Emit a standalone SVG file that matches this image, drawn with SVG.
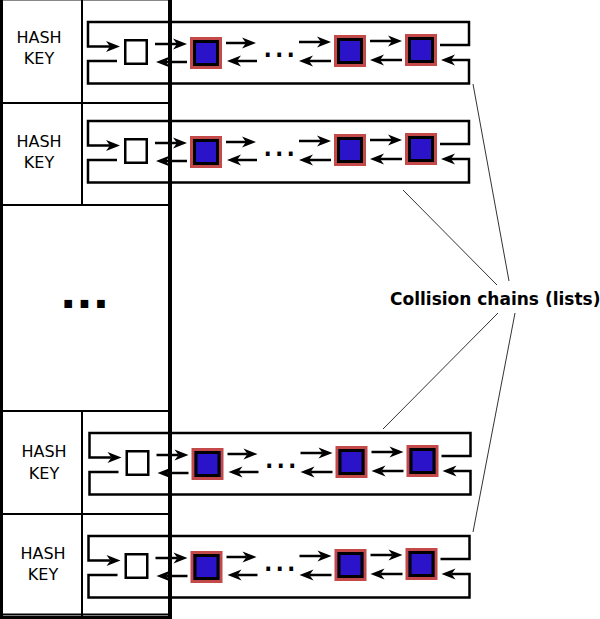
<svg xmlns="http://www.w3.org/2000/svg" xmlns:xlink="http://www.w3.org/1999/xlink" width="600" height="619" viewBox="0 0 600 619">
<style>
.thin{stroke:#000;stroke-width:2;fill:none}
.thick{stroke:#000;fill:none}
.hk{font-family:"DejaVu Sans",sans-serif;font-size:16px;fill:#000;text-anchor:middle}
.ar{stroke:#000;stroke-width:2.5;fill:none;marker-end:url(#ah)}
.head{fill:#fff;stroke:#000;stroke-width:2.5}
.dots{font-family:"DejaVu Sans",sans-serif;font-size:36px;fill:#000}
.lead{stroke:#333;stroke-width:1;fill:none}
.lbl{font-family:"DejaVu Sans",sans-serif;font-weight:bold;font-size:17px;fill:#000}
</style>
<defs>
<marker id="ah" markerUnits="userSpaceOnUse" viewBox="-15 -6 16 12" refX="-10" refY="0" markerWidth="16" markerHeight="12" orient="auto">
<path d="M0,0 L-14,-5.5 L-10,0 L-14,5.5 Z" fill="#000"/>
</marker>
<g id="bn">
<rect x="1.5" y="1.5" width="29" height="29" fill="#2b13c9" stroke="#c44a4a" stroke-width="3"/>
<rect x="4.5" y="4.5" width="23" height="23" fill="none" stroke="#000" stroke-width="3"/>
</g>
</defs>
<rect width="600" height="619" fill="#fff"/>

<g id="table">
<line x1="0" y1="0.5" x2="170" y2="0.5" stroke="#888" stroke-width="1"/>
<line class="thin" x1="3" y1="103" x2="168" y2="103"/>
<line class="thin" x1="3" y1="205" x2="168" y2="205"/>
<line class="thin" x1="3" y1="411" x2="168" y2="411"/>
<line class="thin" x1="3" y1="514" x2="168" y2="514"/>
<line class="thin" x1="3" y1="614.5" x2="168" y2="614.5"/>
<line class="thin" x1="82" y1="0" x2="82" y2="205"/>
<line class="thin" x1="82" y1="411" x2="82" y2="616"/>
<line class="thick" stroke-width="3" x1="1.5" y1="0" x2="1.5" y2="619"/>
<line class="thick" stroke-width="4" x1="170" y1="0" x2="170" y2="619"/>
<line class="thick" stroke-width="3" x1="0" y1="617.5" x2="172" y2="617.5"/>
<g id="key1"><text class="hk" x="39" y="43">HASH</text><text class="hk" x="39" y="64">KEY</text></g>
<g id="key2"><text class="hk" x="39" y="147">HASH</text><text class="hk" x="39" y="168">KEY</text></g>
<text id="table-dots" x="60" y="308" font-family="DejaVu Sans, sans-serif" font-weight="bold" font-size="43">...</text>
<g id="key4"><text class="hk" x="44" y="457">HASH</text><text class="hk" x="44" y="479">KEY</text></g>
<g id="key5"><text class="hk" x="43" y="559">HASH</text><text class="hk" x="43" y="580">KEY</text></g>
</g>

<g id="connectors">
<g id="conn1">
<path class="ar" d="M155,44 H177"/><path class="ar" d="M187,62 H166"/>
<path class="ar" d="M226,43 H246"/><path class="ar" d="M257,61 H237"/>
<path class="ar" d="M299,42 H321"/><path class="ar" d="M331,61 H309"/>
<path class="ar" d="M370,41 H392"/><path class="ar" d="M402,60 H380"/>
<path class="ar" d="M440,45 H469 V22 H88 V46.5 H110"/>
<path class="ar" d="M117,61 H88 V83.5 H469 V60 H451"/>
</g>
<g id="conn2" transform="translate(0,99)">
<path class="ar" d="M155,44 H177"/><path class="ar" d="M187,62 H166"/>
<path class="ar" d="M226,43 H246"/><path class="ar" d="M257,61 H237"/>
<path class="ar" d="M299,42 H321"/><path class="ar" d="M331,61 H309"/>
<path class="ar" d="M370,41 H392"/><path class="ar" d="M402,60 H380"/>
<path class="ar" d="M440,45 H469 V22 H88 V46.5 H110"/>
<path class="ar" d="M117,61 H88 V83.5 H469 V60 H451"/>
</g>
<g id="conn4" transform="translate(1.5,411)">
<path class="ar" d="M155,44 H177"/><path class="ar" d="M187,62 H166"/>
<path class="ar" d="M226,43 H246"/><path class="ar" d="M257,61 H237"/>
<path class="ar" d="M299,42 H321"/><path class="ar" d="M331,61 H309"/>
<path class="ar" d="M370,41 H392"/><path class="ar" d="M402,60 H380"/>
<path class="ar" d="M440,45 H469 V22 H88 V46.5 H110"/>
<path class="ar" d="M117,61 H88 V83.5 H469 V60 H451"/>
</g>
<g id="conn5" transform="translate(0.5,514)">
<path class="ar" d="M155,44 H177"/><path class="ar" d="M187,62 H166"/>
<path class="ar" d="M226,43 H246"/><path class="ar" d="M257,61 H237"/>
<path class="ar" d="M299,42 H321"/><path class="ar" d="M331,61 H309"/>
<path class="ar" d="M370,41 H392"/><path class="ar" d="M402,60 H380"/>
<path class="ar" d="M440,45 H469 V22 H88 V46.5 H110"/>
<path class="ar" d="M117,61 H88 V83.5 H469 V60 H451"/>
</g>
<g id="leaders">
<line class="lead" x1="473" y1="84" x2="509" y2="281"/>
<line class="lead" x1="403" y1="190" x2="497" y2="285"/>
<line class="lead" x1="383" y1="429" x2="498" y2="313"/>
<line class="lead" x1="473" y1="532" x2="515" y2="313"/>
</g>
</g>

<g id="chain1">
<g id="head1"><rect class="head" x="125.25" y="40.25" width="21.5" height="23.5"/></g>
<g id="n1a"><use xlink:href="#bn" x="190" y="37"/></g>
<text class="dots" x="262" y="57">...</text>
<g id="n1b"><use xlink:href="#bn" x="334" y="35"/></g>
<g id="n1c"><use xlink:href="#bn" x="405" y="34"/></g>
</g>
<g id="chain2" transform="translate(0,99)">
<g id="head2"><rect class="head" x="125.25" y="40.25" width="21.5" height="23.5"/></g>
<g id="n2a"><use xlink:href="#bn" x="190" y="37"/></g>
<text class="dots" x="262" y="57">...</text>
<g id="n2b"><use xlink:href="#bn" x="334" y="35"/></g>
<g id="n2c"><use xlink:href="#bn" x="405" y="34"/></g>
</g>
<g id="chain4" transform="translate(1.5,411)">
<g id="head4"><rect class="head" x="125.25" y="40.25" width="21.5" height="23.5"/></g>
<g id="n4a"><use xlink:href="#bn" x="190" y="37"/></g>
<text class="dots" x="262" y="57">...</text>
<g id="n4b"><use xlink:href="#bn" x="334" y="35"/></g>
<g id="n4c"><use xlink:href="#bn" x="405" y="34"/></g>
</g>
<g id="chain5" transform="translate(0.5,514)">
<g id="head5"><rect class="head" x="125.25" y="40.25" width="21.5" height="23.5"/></g>
<g id="n5a"><use xlink:href="#bn" x="190" y="37"/></g>
<text class="dots" x="262" y="57">...</text>
<g id="n5b"><use xlink:href="#bn" x="334" y="35"/></g>
<g id="n5c"><use xlink:href="#bn" x="405" y="34"/></g>
</g>

<g id="label"><text class="lbl" x="390" y="305">Collision chains (lists)</text></g>
</svg>
